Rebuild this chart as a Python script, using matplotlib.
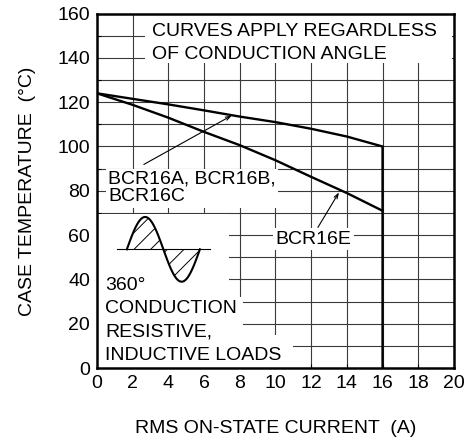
import numpy as np
import matplotlib
matplotlib.use("Agg")
import matplotlib.pyplot as plt
from matplotlib.patches import Rectangle

plt.rcParams['font.family'] = ['Liberation Sans', 'DejaVu Sans']
plt.rcParams['hatch.linewidth'] = 0.7

# data
current = [0, 2, 4, 6, 8, 10, 12, 14, 16]
temp_abc = [124, 121.5, 119, 116.3, 113.5, 111, 108, 104.5, 100]
temp_e = [124, 118.8, 113, 106.6, 100.6, 93.8, 86.3, 79, 71]
i_max = 16

x_ticks = list(range(0, 21, 2))
y_ticks = list(range(0, 161, 20))
y_grid = list(range(10, 160, 10))

fs = 14

fig = plt.figure(figsize=(4.68, 4.43), dpi=100)
ax = fig.add_axes([0.207, 0.169, 0.763, 0.8005])
ax.set_xlim(0, 20)
ax.set_ylim(0, 160)

# grid
for x in x_ticks[1:-1]:
    ax.axvline(x, color='#3a3a3a', lw=0.8, zorder=1)
for y in y_grid:
    ax.axhline(y, color='#3a3a3a', lw=0.8, zorder=1)

# white areas behind the notes
for (x0, y0, w, h) in [(2.7, 137.5, 17.2, 22.5), (0, 0, 7.4, 69.4),
                       (0, 0, 8.2, 32), (0, 0, 11.0, 15)]:
    ax.add_patch(Rectangle((x0, y0), w, h, facecolor='white', edgecolor='none', zorder=2))

# curves
ax.plot(current + [i_max], temp_abc + [0], color='black', lw=1.7, zorder=4,
        solid_joinstyle='miter')
ax.plot(current, temp_e, color='black', lw=1.7, zorder=4)

ax.set_xticks(x_ticks)
ax.set_yticks(y_ticks)
ax.set_yticks(y_grid[::2], minor=True)
ax.tick_params(axis='both', which='both', direction='in', labelsize=fs, length=3, width=0.8, zorder=3)
ax.tick_params(axis='y', which='major', length=0, pad=5)
ax.tick_params(axis='x', which='major', pad=5)
for s in ax.spines.values():
    s.set_linewidth(1.8)
    s.set_zorder(5)

ax.set_xlabel('RMS ON-STATE CURRENT  (A)', fontsize=fs, labelpad=20)
ax.set_ylabel('CASE TEMPERATURE  (°C)', fontsize=fs, labelpad=15)

# notes
ax.text(3.08, 155.7, 'CURVES APPLY REGARDLESS\nOF CONDUCTION ANGLE', fontsize=fs,
        va='top', ha='left', linespacing=1.45, zorder=6)
ax.text(0.62, 89.0, 'BCR16A, BCR16B,\nBCR16C', fontsize=fs, va='top', ha='left',
        linespacing=1.04, zorder=6,
        bbox=dict(facecolor='white', edgecolor='none', pad=1.5))
ax.text(10.0, 58.2, 'BCR16E', fontsize=fs, va='center', ha='left', zorder=6,
        bbox=dict(facecolor='white', edgecolor='none', pad=2))
ax.text(0.45, 41.2, '360°\nCONDUCTION\nRESISTIVE,\nINDUCTIVE LOADS', fontsize=fs,
        va='top', ha='left', linespacing=1.48, zorder=6)

# leader lines
ax.annotate('', xy=(7.56, 114), xytext=(2.63, 91.9), zorder=6,
            arrowprops=dict(arrowstyle='->,head_length=0.35,head_width=0.12', lw=0.8, color='black',
                            shrinkA=0, shrinkB=0))
ax.annotate('', xy=(13.56, 79.3), xytext=(12.38, 63.5), zorder=6,
            arrowprops=dict(arrowstyle='->,head_length=0.35,head_width=0.12', lw=0.8, color='black',
                            shrinkA=0, shrinkB=0))

# waveform pictogram
base = 53.6
t = np.linspace(0, 2 * np.pi, 120)
wx = 1.68 + (5.77 - 1.68) * t / (2 * np.pi)
wy = base + 14.6 * np.sin(t)
ax.fill_between(wx, base, wy, facecolor='none', edgecolor='black', hatch='//', lw=0, zorder=3)
ax.plot(wx, wy, color='black', lw=1.5, zorder=4)
ax.plot([1.12, 6.33], [base, base], color='black', lw=0.8, zorder=4)

fig.savefig('out.png', dpi=100)
